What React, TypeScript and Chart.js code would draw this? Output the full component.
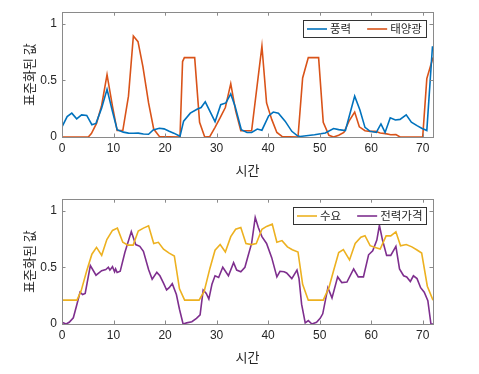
import React, { useEffect, useRef } from "react";
import { Chart, registerables } from "chart.js";

Chart.register(...registerables);

// ---- data (time in hours, normalised values) ----
const windTime = [0, 1, 1.9, 2.85, 3.8, 4.8, 5.8, 6.6, 7.7, 8.74, 9.8, 10.7, 11.9, 12.9, 13.85, 14.8, 15.8, 16.8, 17.7, 18.9, 19.8, 20.8, 21.7, 22.9, 23.6, 24.9, 26.2, 27.0, 27.8, 29.7, 30.8, 31.8, 32.75, 33.6, 34.8, 35.9, 36.8, 37.9, 38.8, 40.1, 41.0, 42.0, 43.3, 44.6, 45.7, 46.2, 49.0, 51.1, 52.7, 53.7, 55.0, 56.8, 57.8, 58.8, 59.8, 61.0, 61.9, 62.7, 63.7, 64.7, 65.6, 66.8, 67.8, 68.9, 69.8, 70.8, 71.9];
const windValue = [0.09, 0.18, 0.21, 0.16, 0.195, 0.19, 0.108, 0.12, 0.255, 0.42, 0.225, 0.065, 0.043, 0.034, 0.033, 0.034, 0.027, 0.024, 0.062, 0.077, 0.072, 0.05, 0.034, 0.006, 0.14, 0.21, 0.245, 0.26, 0.31, 0.135, 0.285, 0.30, 0.38, 0.27, 0.065, 0.04, 0.04, 0.07, 0.06, 0.185, 0.22, 0.21, 0.14, 0.05, 0.01, 0.005, 0.02, 0.035, 0.075, 0.065, 0.057, 0.36, 0.24, 0.085, 0.05, 0.04, 0.115, 0.04, 0.17, 0.15, 0.155, 0.195, 0.13, 0.1, 0.077, 0.057, 0.8];

const solarTime = [0, 5.1, 5.7, 6.7, 7.7, 8.74, 9.8, 10.7, 11.8, 12.9, 13.85, 14.75, 15.7, 16.8, 17.8, 18.9, 22.9, 23.4, 23.75, 25.75, 26.7, 27.7, 28.7, 29.7, 30.7, 31.7, 32.75, 33.7, 34.7, 36.8, 38.8, 39.7, 40.7, 41.7, 42.7, 45.8, 46.7, 47.8, 49.8, 50.7, 51.8, 52.7, 53.7, 54.7, 55.7, 56.8, 57.7, 58.8, 59.8, 60.8, 61.75, 62.8, 63.8, 64.8, 65.6, 70.0, 70.8, 72];
const solarValue = [0, 0, 0.03, 0.12, 0.28, 0.55, 0.27, 0.057, 0.057, 0.36, 0.89, 0.84, 0.62, 0.30, 0.07, 0.005, 0, 0.665, 0.70, 0.70, 0.13, 0, 0.005, 0.085, 0.17, 0.26, 0.47, 0.23, 0.055, 0.055, 0.80, 0.30, 0.155, 0.04, 0.005, 0, 0.52, 0.70, 0.70, 0.13, 0.015, 0, 0.015, 0.04, 0.14, 0.22, 0.09, 0.055, 0.05, 0.05, 0.035, 0.03, 0.02, 0.022, 0, 0, 0.515, 0.70];

const demandTime = [0, 2.9, 3.7, 4.8, 5.8, 6.7, 7.7, 8.7, 9.8, 10.75, 11.8, 12.8, 13.8, 14.8, 15.8, 16.8, 17.8, 18.7, 19.7, 20.8, 21.8, 22.8, 23.8, 26.6, 27.6, 28.7, 29.7, 30.7, 31.7, 32.75, 33.7, 34.7, 35.7, 36.8, 37.7, 38.8, 39.7, 40.8, 41.7, 42.7, 43.75, 44.7, 45.8, 46.7, 47.8, 50.7, 51.8, 52.7, 53.7, 54.6, 55.8, 56.9, 58.0, 58.8, 59.8, 60.8, 61.75, 62.9, 63.8, 64.8, 65.7, 66.8, 67.9, 68.9, 69.8, 70.9, 72];
const demandValue = [0.21, 0.21, 0.29, 0.47, 0.615, 0.675, 0.605, 0.745, 0.825, 0.845, 0.72, 0.695, 0.695, 0.82, 0.845, 0.865, 0.71, 0.72, 0.66, 0.625, 0.60, 0.31, 0.21, 0.21, 0.29, 0.49, 0.65, 0.70, 0.635, 0.77, 0.835, 0.85, 0.71, 0.70, 0.71, 0.835, 0.86, 0.88, 0.72, 0.735, 0.68, 0.655, 0.635, 0.35, 0.21, 0.21, 0.32, 0.47, 0.63, 0.655, 0.565, 0.71, 0.765, 0.778, 0.69, 0.675, 0.66, 0.777, 0.777, 0.813, 0.69, 0.70, 0.68, 0.652, 0.625, 0.333, 0.21];

const priceTime = [0, 0.8, 1.4, 2.2, 2.85, 3.5, 4.0, 4.5, 5.5, 6.6, 7.7, 8.5, 9.0, 9.3, 9.8, 10.2, 10.4, 10.7, 11.3, 12.2, 13.45, 14.3, 15.1, 15.8, 16.8, 17.5, 18.4, 19.0, 19.7, 20.3, 20.8, 21.4, 22.2, 22.8, 23.5, 24.2, 25.2, 26.1, 26.8, 27.4, 28.0, 28.5, 29.1, 29.7, 30.4, 31.2, 32.3, 33.3, 33.9, 34.7, 35.5, 36.2, 36.8, 37.5, 38.1, 38.8, 39.7, 40.7, 41.7, 42.3, 43.1, 43.6, 44.6, 45.6, 46.0, 46.5, 47.2, 47.8, 48.5, 49.4, 50.1, 50.6, 51.6, 52.4, 53.5, 54.3, 55.3, 56.6, 57.5, 58.5, 59.5, 60.3, 61.1, 61.6, 62.2, 63.0, 63.8, 64.8, 65.5, 66.3, 66.9, 67.6, 68.2, 68.9, 69.6, 70.3, 71.0, 71.6, 72];
const priceValue = [0.015, 0, 0.015, 0.055, 0.165, 0.28, 0.26, 0.27, 0.515, 0.43, 0.47, 0.48, 0.5, 0.475, 0.505, 0.46, 0.485, 0.455, 0.465, 0.63, 0.815, 0.70, 0.685, 0.64, 0.48, 0.395, 0.455, 0.425, 0.36, 0.30, 0.32, 0.355, 0.26, 0.13, 0, 0.01, 0.02, 0.05, 0.08, 0.30, 0.27, 0.22, 0.35, 0.425, 0.41, 0.50, 0.425, 0.54, 0.475, 0.46, 0.50, 0.615, 0.71, 0.94, 0.85, 0.77, 0.71, 0.585, 0.415, 0.465, 0.46, 0.45, 0.40, 0.475, 0.40, 0.175, 0.01, 0.03, 0, 0.015, 0.05, 0.09, 0.32, 0.23, 0.415, 0.365, 0.37, 0.485, 0.415, 0.415, 0.61, 0.645, 0.74, 0.87, 0.74, 0.605, 0.605, 0.685, 0.485, 0.425, 0.415, 0.375, 0.425, 0.40, 0.32, 0.28, 0.205, 0, 0];

const xTicks = [0, 10, 20, 30, 40, 50, 60, 70];
const yTicks = [0, 0.5, 1];
const xLabel = "시간";
const yLabel = "표준화된 값";

const COLORS = {
  wind: "#0072BD",
  solar: "#D95319",
  demand: "#EDB120",
  price: "#7E2F8E",
};

const NUM_FONT = "'Liberation Sans', Arial, 'Noto Sans CJK KR', sans-serif";
const KR_FONT = "'Noto Sans CJK KR', 'Liberation Sans', sans-serif";
const TEXT_COLOR = "#262626";

const toPoints = (t: number[], v: number[]) => t.map((x, i) => ({ x, y: v[i] }));

const frameLegendPlugin = {
  id: "frameLegend",
  afterDraw(chart: any) {
    const { ctx, chartArea } = chart;
    const { left, right, top, bottom } = chartArea;
    const xs = chart.scales.x;
    const ys = chart.scales.y;
    ctx.save();
    // box
    ctx.strokeStyle = "#8a8a8a";
    ctx.lineWidth = 1;
    ctx.strokeRect(Math.round(left) + 0.5, Math.round(top) + 0.5, Math.round(right - left), Math.round(bottom - top));
    // inward ticks
    const tl = 3.5;
    ctx.beginPath();
    xTicks.forEach((t) => {
      const px = Math.round(xs.getPixelForValue(t)) + 0.5;
      ctx.moveTo(px, bottom);
      ctx.lineTo(px, bottom - tl);
      ctx.moveTo(px, top);
      ctx.lineTo(px, top + tl);
    });
    yTicks.forEach((v) => {
      const py = Math.round(ys.getPixelForValue(v)) + 0.5;
      ctx.moveTo(left, py);
      ctx.lineTo(left + tl, py);
      ctx.moveTo(right, py);
      ctx.lineTo(right - tl, py);
    });
    ctx.stroke();

    // legend
    const ds = chart.data.datasets;
    ctx.font = `11.5px ${KR_FONT}`;
    const lineLen = 20;
    const gap = 3;
    const sep = 16;
    const pad = 4;
    let w = pad * 2 + sep * (ds.length - 1);
    ds.forEach((d: any) => {
      w += lineLen + gap + ctx.measureText(d.label).width;
    });
    w = Math.round(w);
    const h = 17;
    const bx = Math.round(right - 7 - w);
    const by = Math.round(top + 8);
    ctx.fillStyle = "#ffffff";
    ctx.fillRect(bx, by, w, h);
    ctx.strokeStyle = "#333333";
    ctx.lineWidth = 1;
    ctx.strokeRect(bx + 0.5, by + 0.5, w, h);
    let cx = bx + pad;
    const cy = by + h / 2 + 0.5;
    ds.forEach((d: any) => {
      ctx.strokeStyle = d.borderColor;
      ctx.lineWidth = 1.6;
      ctx.beginPath();
      ctx.moveTo(cx, cy);
      ctx.lineTo(cx + lineLen, cy);
      ctx.stroke();
      cx += lineLen + gap;
      ctx.fillStyle = TEXT_COLOR;
      ctx.textBaseline = "middle";
      ctx.textAlign = "left";
      ctx.fillText(d.label, cx, cy);
      cx += ctx.measureText(d.label).width + sep;
    });
    ctx.restore();
  },
};

function makeConfig(series: { label: string; t: number[]; v: number[]; color: string }[]): any {
  return {
    type: "line",
    data: {
      datasets: series.map((s) => ({
        label: s.label,
        data: toPoints(s.t, s.v),
        borderColor: s.color,
        backgroundColor: s.color,
        borderWidth: 1.6,
        pointRadius: 0,
        tension: 0,
        fill: false,
      })),
    },
    options: {
      animation: false,
      responsive: false,
      maintainAspectRatio: false,
      events: [],
      layout: { padding: { top: 6.5, right: 46, left: 0, bottom: 0 } },
      plugins: { legend: { display: false }, tooltip: { enabled: false } },
      scales: {
        x: {
          type: "linear",
          min: 0,
          max: 72,
          grid: { display: false, drawTicks: false },
          border: { display: false },
          afterBuildTicks: (s: any) => {
            s.ticks = xTicks.map((value) => ({ value }));
          },
          afterFit: (s: any) => {
            s.height = 50;
          },
          ticks: {
            padding: 4,
            maxRotation: 0,
            color: TEXT_COLOR,
            font: { family: NUM_FONT, size: 12 },
            callback: (v: any) => String(v),
          },
          title: {
            display: true,
            text: xLabel,
            color: TEXT_COLOR,
            font: { family: KR_FONT, size: 13 },
            padding: { top: 0, bottom: 9 },
          },
        },
        y: {
          type: "linear",
          min: 0,
          max: 1.1,
          grid: { display: false, drawTicks: false },
          border: { display: false },
          afterBuildTicks: (s: any) => {
            s.ticks = yTicks.map((value) => ({ value }));
          },
          afterFit: (s: any) => {
            s.width = 62;
          },
          ticks: {
            padding: 5,
            color: TEXT_COLOR,
            font: { family: NUM_FONT, size: 12 },
            callback: (v: any) => String(v),
          },
          title: {
            display: true,
            text: yLabel,
            color: TEXT_COLOR,
            font: { family: KR_FONT, size: 13 },
            padding: { top: 21, bottom: 0 },
          },
        },
      },
    },
    plugins: [frameLegendPlugin],
  };
}

export default function App() {
  const topRef = useRef<HTMLCanvasElement | null>(null);
  const botRef = useRef<HTMLCanvasElement | null>(null);

  useEffect(() => {
    const c1 = new Chart(
      topRef.current as HTMLCanvasElement,
      makeConfig([
        { label: "풍력", t: windTime, v: windValue, color: COLORS.wind },
        { label: "태양광", t: solarTime, v: solarValue, color: COLORS.solar },
      ])
    );
    const c2 = new Chart(
      botRef.current as HTMLCanvasElement,
      makeConfig([
        { label: "수요", t: demandTime, v: demandValue, color: COLORS.demand },
        { label: "전력가격", t: priceTime, v: priceValue, color: COLORS.price },
      ])
    );
    return () => {
      c1.destroy();
      c2.destroy();
    };
  }, []);

  return (
    <div style={{ position: "fixed", left: 0, top: 0, width: 479, height: 374, background: "#fff" }}>
      <canvas ref={topRef} width={479} height={187} style={{ position: "absolute", left: 0, top: 0, width: 479, height: 187 }} />
      <canvas ref={botRef} width={479} height={187} style={{ position: "absolute", left: 0, top: 187, width: 479, height: 187 }} />
    </div>
  );
}
